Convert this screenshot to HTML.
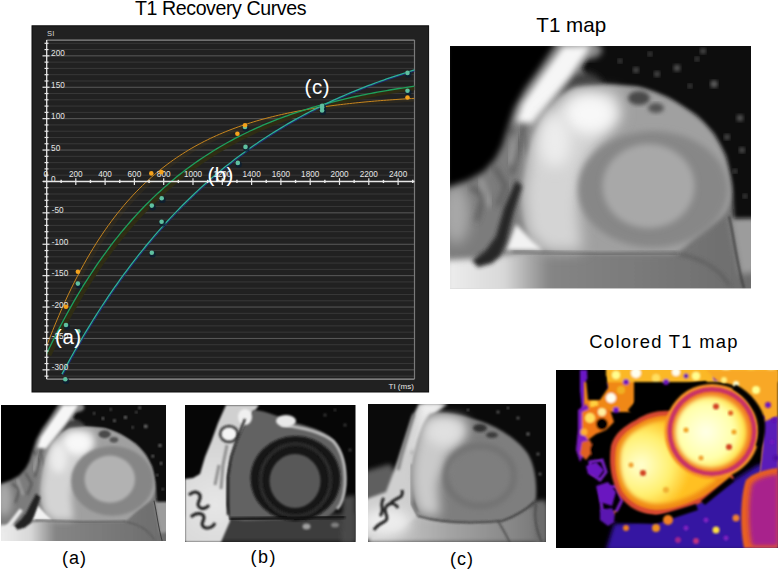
<!DOCTYPE html>
<html><head><meta charset="utf-8"><style>
html,body{margin:0;padding:0;background:#fff;}
body{width:778px;height:571px;position:relative;overflow:hidden;font-family:"Liberation Sans",sans-serif;}
.abs{position:absolute;}
.chart{position:absolute;left:30.5px;top:24.5px;}
.t{position:absolute;white-space:nowrap;color:#000;line-height:1;}
</style></head><body>
<div class="t" id="t1" style="left:135px;top:-0.8px;font-size:19.6px;letter-spacing:-0.42px;">T1 Recovery Curves</div>
<div class="t" id="t2" style="left:536.3px;top:15.2px;font-size:20.6px;letter-spacing:0px;">T1 map</div>
<div class="t" id="t3" style="left:589.3px;top:333px;font-size:18.4px;letter-spacing:1.29px;">Colored T1 map</div>
<div class="t" id="la" style="left:62px;top:548.5px;font-size:18px;letter-spacing:1px;">(a)</div>
<div class="t" id="lb" style="left:250.5px;top:547.5px;font-size:18px;letter-spacing:1.5px;">(b)</div>
<div class="t" id="lc" style="left:450px;top:549.5px;font-size:18px;letter-spacing:1px;">(c)</div>
<svg class="chart" width="399" height="369" viewBox="30.5 24.5 399 369">
<rect x="31.5" y="25.3" width="396.6" height="366.2" fill="#212121" stroke="#0c0c0c" stroke-width="1"/>
<line x1="46" x2="414" y1="375.63" y2="375.63" stroke="#383838" stroke-width="1"/>
<line x1="46" x2="414" y1="369.35" y2="369.35" stroke="#5a5a5a" stroke-width="1"/>
<line x1="46" x2="414" y1="363.07" y2="363.07" stroke="#383838" stroke-width="1"/>
<line x1="46" x2="414" y1="356.79" y2="356.79" stroke="#383838" stroke-width="1"/>
<line x1="46" x2="414" y1="350.51" y2="350.51" stroke="#383838" stroke-width="1"/>
<line x1="46" x2="414" y1="344.23" y2="344.23" stroke="#383838" stroke-width="1"/>
<line x1="46" x2="414" y1="337.95" y2="337.95" stroke="#5a5a5a" stroke-width="1"/>
<line x1="46" x2="414" y1="331.67" y2="331.67" stroke="#383838" stroke-width="1"/>
<line x1="46" x2="414" y1="325.39" y2="325.39" stroke="#383838" stroke-width="1"/>
<line x1="46" x2="414" y1="319.11" y2="319.11" stroke="#383838" stroke-width="1"/>
<line x1="46" x2="414" y1="312.83" y2="312.83" stroke="#383838" stroke-width="1"/>
<line x1="46" x2="414" y1="306.55" y2="306.55" stroke="#5a5a5a" stroke-width="1"/>
<line x1="46" x2="414" y1="300.27" y2="300.27" stroke="#383838" stroke-width="1"/>
<line x1="46" x2="414" y1="293.99" y2="293.99" stroke="#383838" stroke-width="1"/>
<line x1="46" x2="414" y1="287.71" y2="287.71" stroke="#383838" stroke-width="1"/>
<line x1="46" x2="414" y1="281.43" y2="281.43" stroke="#383838" stroke-width="1"/>
<line x1="46" x2="414" y1="275.15" y2="275.15" stroke="#5a5a5a" stroke-width="1"/>
<line x1="46" x2="414" y1="268.87" y2="268.87" stroke="#383838" stroke-width="1"/>
<line x1="46" x2="414" y1="262.59" y2="262.59" stroke="#383838" stroke-width="1"/>
<line x1="46" x2="414" y1="256.31" y2="256.31" stroke="#383838" stroke-width="1"/>
<line x1="46" x2="414" y1="250.03" y2="250.03" stroke="#383838" stroke-width="1"/>
<line x1="46" x2="414" y1="243.75" y2="243.75" stroke="#5a5a5a" stroke-width="1"/>
<line x1="46" x2="414" y1="237.47" y2="237.47" stroke="#383838" stroke-width="1"/>
<line x1="46" x2="414" y1="231.19" y2="231.19" stroke="#383838" stroke-width="1"/>
<line x1="46" x2="414" y1="224.91" y2="224.91" stroke="#383838" stroke-width="1"/>
<line x1="46" x2="414" y1="218.63" y2="218.63" stroke="#383838" stroke-width="1"/>
<line x1="46" x2="414" y1="212.35" y2="212.35" stroke="#5a5a5a" stroke-width="1"/>
<line x1="46" x2="414" y1="206.07" y2="206.07" stroke="#383838" stroke-width="1"/>
<line x1="46" x2="414" y1="199.79" y2="199.79" stroke="#383838" stroke-width="1"/>
<line x1="46" x2="414" y1="193.51" y2="193.51" stroke="#383838" stroke-width="1"/>
<line x1="46" x2="414" y1="187.23" y2="187.23" stroke="#383838" stroke-width="1"/>
<line x1="46" x2="414" y1="180.95" y2="180.95" stroke="#5a5a5a" stroke-width="1"/>
<line x1="46" x2="414" y1="174.67" y2="174.67" stroke="#383838" stroke-width="1"/>
<line x1="46" x2="414" y1="168.39" y2="168.39" stroke="#383838" stroke-width="1"/>
<line x1="46" x2="414" y1="162.11" y2="162.11" stroke="#383838" stroke-width="1"/>
<line x1="46" x2="414" y1="155.83" y2="155.83" stroke="#383838" stroke-width="1"/>
<line x1="46" x2="414" y1="149.55" y2="149.55" stroke="#5a5a5a" stroke-width="1"/>
<line x1="46" x2="414" y1="143.27" y2="143.27" stroke="#383838" stroke-width="1"/>
<line x1="46" x2="414" y1="136.99" y2="136.99" stroke="#383838" stroke-width="1"/>
<line x1="46" x2="414" y1="130.71" y2="130.71" stroke="#383838" stroke-width="1"/>
<line x1="46" x2="414" y1="124.43" y2="124.43" stroke="#383838" stroke-width="1"/>
<line x1="46" x2="414" y1="118.15" y2="118.15" stroke="#5a5a5a" stroke-width="1"/>
<line x1="46" x2="414" y1="111.87" y2="111.87" stroke="#383838" stroke-width="1"/>
<line x1="46" x2="414" y1="105.59" y2="105.59" stroke="#383838" stroke-width="1"/>
<line x1="46" x2="414" y1="99.31" y2="99.31" stroke="#383838" stroke-width="1"/>
<line x1="46" x2="414" y1="93.03" y2="93.03" stroke="#383838" stroke-width="1"/>
<line x1="46" x2="414" y1="86.75" y2="86.75" stroke="#5a5a5a" stroke-width="1"/>
<line x1="46" x2="414" y1="80.47" y2="80.47" stroke="#383838" stroke-width="1"/>
<line x1="46" x2="414" y1="74.19" y2="74.19" stroke="#383838" stroke-width="1"/>
<line x1="46" x2="414" y1="67.91" y2="67.91" stroke="#383838" stroke-width="1"/>
<line x1="46" x2="414" y1="61.63" y2="61.63" stroke="#383838" stroke-width="1"/>
<line x1="46" x2="414" y1="55.35" y2="55.35" stroke="#5a5a5a" stroke-width="1"/>
<line x1="46" x2="414" y1="49.07" y2="49.07" stroke="#383838" stroke-width="1"/>
<line x1="46" x2="414" y1="42.79" y2="42.79" stroke="#383838" stroke-width="1"/>
<line x1="46" x2="414" y1="39.6" y2="39.6" stroke="#8a8a8a" stroke-width="1.2"/>
<line x1="414" x2="414" y1="39.6" y2="378.6" stroke="#7a7a7a" stroke-width="1.2"/>
<line x1="46" x2="414" y1="378.6" y2="378.6" stroke="#9a9a9a" stroke-width="1.4"/>
<g clip-path="url(#plotclip)">
<defs><clipPath id="plotclip"><rect x="46" y="39.6" width="368" height="339.0"/></clipPath></defs>
<path d="M46.00,345.93 L49.09,337.83 L52.18,330.00 L55.28,322.41 L58.37,315.07 L61.46,307.96 L64.55,301.08 L67.65,294.42 L70.74,287.97 L73.83,281.73 L76.92,275.68 L80.02,269.83 L83.11,264.17 L86.20,258.69 L89.29,253.38 L92.39,248.24 L95.48,243.27 L98.57,238.45 L101.66,233.79 L104.76,229.28 L107.85,224.91 L110.94,220.68 L114.03,216.59 L117.13,212.63 L120.22,208.79 L123.31,205.08 L126.40,201.48 L129.50,198.00 L132.59,194.63 L135.68,191.37 L138.77,188.22 L141.87,185.16 L144.96,182.20 L148.05,179.34 L151.14,176.56 L154.24,173.88 L157.33,171.28 L160.42,168.77 L163.51,166.33 L166.61,163.97 L169.70,161.69 L172.79,159.48 L175.88,157.34 L178.97,155.27 L182.07,153.27 L185.16,151.33 L188.25,149.45 L191.34,147.63 L194.44,145.87 L197.53,144.17 L200.62,142.52 L203.71,140.92 L206.81,139.38 L209.90,137.88 L212.99,136.43 L216.08,135.03 L219.18,133.67 L222.27,132.36 L225.36,131.09 L228.45,129.85 L231.55,128.66 L234.64,127.51 L237.73,126.39 L240.82,125.31 L243.92,124.26 L247.01,123.25 L250.10,122.27 L253.19,121.32 L256.29,120.40 L259.38,119.51 L262.47,118.65 L265.56,117.81 L268.66,117.01 L271.75,116.22 L274.84,115.47 L277.93,114.73 L281.03,114.02 L284.12,113.34 L287.21,112.67 L290.30,112.03 L293.39,111.41 L296.49,110.80 L299.58,110.22 L302.67,109.66 L305.76,109.11 L308.86,108.58 L311.95,108.07 L315.04,107.57 L318.13,107.09 L321.23,106.63 L324.32,106.17 L327.41,105.74 L330.50,105.32 L333.60,104.91 L336.69,104.51 L339.78,104.13 L342.87,103.76 L345.97,103.40 L349.06,103.05 L352.15,102.72 L355.24,102.39 L358.34,102.08 L361.43,101.77 L364.52,101.48 L367.61,101.19 L370.71,100.92 L373.80,100.65 L376.89,100.39 L379.98,100.14 L383.08,99.89 L386.17,99.66 L389.26,99.43 L392.35,99.21 L395.45,99.00 L398.54,98.79 L401.63,98.59 L404.72,98.40 L407.82,98.21 L410.91,98.03 L414.00,97.85" fill="none" stroke="rgba(75,60,25,0.25)" stroke-width="4" transform="translate(2.4,1.2)"/>
<path d="M46.00,353.44 L49.09,346.97 L52.18,340.64 L55.28,334.45 L58.37,328.41 L61.46,322.50 L64.55,316.73 L67.65,311.08 L70.74,305.56 L73.83,300.17 L76.92,294.90 L80.02,289.75 L83.11,284.71 L86.20,279.79 L89.29,274.98 L92.39,270.28 L95.48,265.68 L98.57,261.19 L101.66,256.80 L104.76,252.51 L107.85,248.32 L110.94,244.22 L114.03,240.21 L117.13,236.29 L120.22,232.46 L123.31,228.72 L126.40,225.07 L129.50,221.49 L132.59,218.00 L135.68,214.58 L138.77,211.24 L141.87,207.98 L144.96,204.79 L148.05,201.68 L151.14,198.63 L154.24,195.65 L157.33,192.74 L160.42,189.90 L163.51,187.12 L166.61,184.40 L169.70,181.74 L172.79,179.15 L175.88,176.61 L178.97,174.13 L182.07,171.71 L185.16,169.34 L188.25,167.02 L191.34,164.76 L194.44,162.55 L197.53,160.38 L200.62,158.27 L203.71,156.20 L206.81,154.18 L209.90,152.21 L212.99,150.28 L216.08,148.40 L219.18,146.55 L222.27,144.75 L225.36,142.99 L228.45,141.27 L231.55,139.59 L234.64,137.94 L237.73,136.34 L240.82,134.77 L243.92,133.23 L247.01,131.73 L250.10,130.26 L253.19,128.83 L256.29,127.43 L259.38,126.06 L262.47,124.72 L265.56,123.41 L268.66,122.14 L271.75,120.89 L274.84,119.66 L277.93,118.47 L281.03,117.30 L284.12,116.16 L287.21,115.05 L290.30,113.96 L293.39,112.89 L296.49,111.85 L299.58,110.83 L302.67,109.84 L305.76,108.87 L308.86,107.92 L311.95,106.99 L315.04,106.08 L318.13,105.19 L321.23,104.33 L324.32,103.48 L327.41,102.65 L330.50,101.84 L333.60,101.05 L336.69,100.28 L339.78,99.52 L342.87,98.78 L345.97,98.06 L349.06,97.35 L352.15,96.66 L355.24,95.99 L358.34,95.33 L361.43,94.68 L364.52,94.05 L367.61,93.44 L370.71,92.84 L373.80,92.25 L376.89,91.67 L379.98,91.11 L383.08,90.56 L386.17,90.03 L389.26,89.50 L392.35,88.99 L395.45,88.49 L398.54,88.00 L401.63,87.52 L404.72,87.05 L407.82,86.59 L410.91,86.15 L414.00,85.71" fill="none" stroke="rgba(48,46,18,0.9)" stroke-width="4.5" transform="translate(2.6,1.4)"/>
<path d="M61.46,373.62 L64.55,367.84 L67.65,362.15 L70.74,356.55 L73.83,351.04 L76.92,345.62 L80.02,340.28 L83.11,335.03 L86.20,329.87 L89.29,324.79 L92.39,319.78 L95.48,314.86 L98.57,310.02 L101.66,305.25 L104.76,300.56 L107.85,295.95 L110.94,291.41 L114.03,286.94 L117.13,282.54 L120.22,278.22 L123.31,273.96 L126.40,269.77 L129.50,265.65 L132.59,261.59 L135.68,257.60 L138.77,253.67 L141.87,249.80 L144.96,246.00 L148.05,242.26 L151.14,238.57 L154.24,234.95 L157.33,231.38 L160.42,227.87 L163.51,224.42 L166.61,221.02 L169.70,217.68 L172.79,214.39 L175.88,211.15 L178.97,207.97 L182.07,204.83 L185.16,201.75 L188.25,198.71 L191.34,195.72 L194.44,192.78 L197.53,189.89 L200.62,187.04 L203.71,184.24 L206.81,181.49 L209.90,178.78 L212.99,176.11 L216.08,173.48 L219.18,170.90 L222.27,168.35 L225.36,165.85 L228.45,163.39 L231.55,160.97 L234.64,158.58 L237.73,156.24 L240.82,153.93 L243.92,151.66 L247.01,149.42 L250.10,147.22 L253.19,145.06 L256.29,142.93 L259.38,140.83 L262.47,138.77 L265.56,136.74 L268.66,134.74 L271.75,132.78 L274.84,130.84 L277.93,128.94 L281.03,127.07 L284.12,125.23 L287.21,123.41 L290.30,121.63 L293.39,119.87 L296.49,118.15 L299.58,116.45 L302.67,114.77 L305.76,113.13 L308.86,111.51 L311.95,109.91 L315.04,108.35 L318.13,106.80 L321.23,105.28 L324.32,103.79 L327.41,102.32 L330.50,100.87 L333.60,99.45 L336.69,98.05 L339.78,96.67 L342.87,95.31 L345.97,93.98 L349.06,92.66 L352.15,91.37 L355.24,90.10 L358.34,88.85 L361.43,87.61 L364.52,86.40 L367.61,85.21 L370.71,84.04 L373.80,82.88 L376.89,81.74 L379.98,80.63 L383.08,79.53 L386.17,78.44 L389.26,77.38 L392.35,76.33 L395.45,75.30 L398.54,74.28 L401.63,73.28 L404.72,72.30 L407.82,71.33 L410.91,70.38 L414.00,69.44" fill="none" stroke="#1c2a80" stroke-width="1.0" transform="translate(0.9,0.9)"/>
<path d="M46.00,345.93 L49.09,337.83 L52.18,330.00 L55.28,322.41 L58.37,315.07 L61.46,307.96 L64.55,301.08 L67.65,294.42 L70.74,287.97 L73.83,281.73 L76.92,275.68 L80.02,269.83 L83.11,264.17 L86.20,258.69 L89.29,253.38 L92.39,248.24 L95.48,243.27 L98.57,238.45 L101.66,233.79 L104.76,229.28 L107.85,224.91 L110.94,220.68 L114.03,216.59 L117.13,212.63 L120.22,208.79 L123.31,205.08 L126.40,201.48 L129.50,198.00 L132.59,194.63 L135.68,191.37 L138.77,188.22 L141.87,185.16 L144.96,182.20 L148.05,179.34 L151.14,176.56 L154.24,173.88 L157.33,171.28 L160.42,168.77 L163.51,166.33 L166.61,163.97 L169.70,161.69 L172.79,159.48 L175.88,157.34 L178.97,155.27 L182.07,153.27 L185.16,151.33 L188.25,149.45 L191.34,147.63 L194.44,145.87 L197.53,144.17 L200.62,142.52 L203.71,140.92 L206.81,139.38 L209.90,137.88 L212.99,136.43 L216.08,135.03 L219.18,133.67 L222.27,132.36 L225.36,131.09 L228.45,129.85 L231.55,128.66 L234.64,127.51 L237.73,126.39 L240.82,125.31 L243.92,124.26 L247.01,123.25 L250.10,122.27 L253.19,121.32 L256.29,120.40 L259.38,119.51 L262.47,118.65 L265.56,117.81 L268.66,117.01 L271.75,116.22 L274.84,115.47 L277.93,114.73 L281.03,114.02 L284.12,113.34 L287.21,112.67 L290.30,112.03 L293.39,111.41 L296.49,110.80 L299.58,110.22 L302.67,109.66 L305.76,109.11 L308.86,108.58 L311.95,108.07 L315.04,107.57 L318.13,107.09 L321.23,106.63 L324.32,106.17 L327.41,105.74 L330.50,105.32 L333.60,104.91 L336.69,104.51 L339.78,104.13 L342.87,103.76 L345.97,103.40 L349.06,103.05 L352.15,102.72 L355.24,102.39 L358.34,102.08 L361.43,101.77 L364.52,101.48 L367.61,101.19 L370.71,100.92 L373.80,100.65 L376.89,100.39 L379.98,100.14 L383.08,99.89 L386.17,99.66 L389.26,99.43 L392.35,99.21 L395.45,99.00 L398.54,98.79 L401.63,98.59 L404.72,98.40 L407.82,98.21 L410.91,98.03 L414.00,97.85" fill="none" stroke="#c8861e" stroke-width="1.0"/>
<path d="M46.00,353.44 L49.09,346.97 L52.18,340.64 L55.28,334.45 L58.37,328.41 L61.46,322.50 L64.55,316.73 L67.65,311.08 L70.74,305.56 L73.83,300.17 L76.92,294.90 L80.02,289.75 L83.11,284.71 L86.20,279.79 L89.29,274.98 L92.39,270.28 L95.48,265.68 L98.57,261.19 L101.66,256.80 L104.76,252.51 L107.85,248.32 L110.94,244.22 L114.03,240.21 L117.13,236.29 L120.22,232.46 L123.31,228.72 L126.40,225.07 L129.50,221.49 L132.59,218.00 L135.68,214.58 L138.77,211.24 L141.87,207.98 L144.96,204.79 L148.05,201.68 L151.14,198.63 L154.24,195.65 L157.33,192.74 L160.42,189.90 L163.51,187.12 L166.61,184.40 L169.70,181.74 L172.79,179.15 L175.88,176.61 L178.97,174.13 L182.07,171.71 L185.16,169.34 L188.25,167.02 L191.34,164.76 L194.44,162.55 L197.53,160.38 L200.62,158.27 L203.71,156.20 L206.81,154.18 L209.90,152.21 L212.99,150.28 L216.08,148.40 L219.18,146.55 L222.27,144.75 L225.36,142.99 L228.45,141.27 L231.55,139.59 L234.64,137.94 L237.73,136.34 L240.82,134.77 L243.92,133.23 L247.01,131.73 L250.10,130.26 L253.19,128.83 L256.29,127.43 L259.38,126.06 L262.47,124.72 L265.56,123.41 L268.66,122.14 L271.75,120.89 L274.84,119.66 L277.93,118.47 L281.03,117.30 L284.12,116.16 L287.21,115.05 L290.30,113.96 L293.39,112.89 L296.49,111.85 L299.58,110.83 L302.67,109.84 L305.76,108.87 L308.86,107.92 L311.95,106.99 L315.04,106.08 L318.13,105.19 L321.23,104.33 L324.32,103.48 L327.41,102.65 L330.50,101.84 L333.60,101.05 L336.69,100.28 L339.78,99.52 L342.87,98.78 L345.97,98.06 L349.06,97.35 L352.15,96.66 L355.24,95.99 L358.34,95.33 L361.43,94.68 L364.52,94.05 L367.61,93.44 L370.71,92.84 L373.80,92.25 L376.89,91.67 L379.98,91.11 L383.08,90.56 L386.17,90.03 L389.26,89.50 L392.35,88.99 L395.45,88.49 L398.54,88.00 L401.63,87.52 L404.72,87.05 L407.82,86.59 L410.91,86.15 L414.00,85.71" fill="none" stroke="#1ea05c" stroke-width="1.3"/>
<path d="M61.46,373.62 L64.55,367.84 L67.65,362.15 L70.74,356.55 L73.83,351.04 L76.92,345.62 L80.02,340.28 L83.11,335.03 L86.20,329.87 L89.29,324.79 L92.39,319.78 L95.48,314.86 L98.57,310.02 L101.66,305.25 L104.76,300.56 L107.85,295.95 L110.94,291.41 L114.03,286.94 L117.13,282.54 L120.22,278.22 L123.31,273.96 L126.40,269.77 L129.50,265.65 L132.59,261.59 L135.68,257.60 L138.77,253.67 L141.87,249.80 L144.96,246.00 L148.05,242.26 L151.14,238.57 L154.24,234.95 L157.33,231.38 L160.42,227.87 L163.51,224.42 L166.61,221.02 L169.70,217.68 L172.79,214.39 L175.88,211.15 L178.97,207.97 L182.07,204.83 L185.16,201.75 L188.25,198.71 L191.34,195.72 L194.44,192.78 L197.53,189.89 L200.62,187.04 L203.71,184.24 L206.81,181.49 L209.90,178.78 L212.99,176.11 L216.08,173.48 L219.18,170.90 L222.27,168.35 L225.36,165.85 L228.45,163.39 L231.55,160.97 L234.64,158.58 L237.73,156.24 L240.82,153.93 L243.92,151.66 L247.01,149.42 L250.10,147.22 L253.19,145.06 L256.29,142.93 L259.38,140.83 L262.47,138.77 L265.56,136.74 L268.66,134.74 L271.75,132.78 L274.84,130.84 L277.93,128.94 L281.03,127.07 L284.12,125.23 L287.21,123.41 L290.30,121.63 L293.39,119.87 L296.49,118.15 L299.58,116.45 L302.67,114.77 L305.76,113.13 L308.86,111.51 L311.95,109.91 L315.04,108.35 L318.13,106.80 L321.23,105.28 L324.32,103.79 L327.41,102.32 L330.50,100.87 L333.60,99.45 L336.69,98.05 L339.78,96.67 L342.87,95.31 L345.97,93.98 L349.06,92.66 L352.15,91.37 L355.24,90.10 L358.34,88.85 L361.43,87.61 L364.52,86.40 L367.61,85.21 L370.71,84.04 L373.80,82.88 L376.89,81.74 L379.98,80.63 L383.08,79.53 L386.17,78.44 L389.26,77.38 L392.35,76.33 L395.45,75.30 L398.54,74.28 L401.63,73.28 L404.72,72.30 L407.82,71.33 L410.91,70.38 L414.00,69.44" fill="none" stroke="#2cb09a" stroke-width="1.3"/>
</g>
<line x1="46.2" x2="46.2" y1="39.6" y2="378.6" stroke="#e8e8e8" stroke-width="1.3"/>
<line x1="44" x2="48" y1="375.63" y2="375.63" stroke="#e8e8e8" stroke-width="1.2"/>
<line x1="42" x2="49" y1="369.35" y2="369.35" stroke="#e8e8e8" stroke-width="1.2"/>
<line x1="44" x2="48" y1="363.07" y2="363.07" stroke="#e8e8e8" stroke-width="1.2"/>
<line x1="44" x2="48" y1="356.79" y2="356.79" stroke="#e8e8e8" stroke-width="1.2"/>
<line x1="44" x2="48" y1="350.51" y2="350.51" stroke="#e8e8e8" stroke-width="1.2"/>
<line x1="44" x2="48" y1="344.23" y2="344.23" stroke="#e8e8e8" stroke-width="1.2"/>
<line x1="42" x2="49" y1="337.95" y2="337.95" stroke="#e8e8e8" stroke-width="1.2"/>
<line x1="44" x2="48" y1="331.67" y2="331.67" stroke="#e8e8e8" stroke-width="1.2"/>
<line x1="44" x2="48" y1="325.39" y2="325.39" stroke="#e8e8e8" stroke-width="1.2"/>
<line x1="44" x2="48" y1="319.11" y2="319.11" stroke="#e8e8e8" stroke-width="1.2"/>
<line x1="44" x2="48" y1="312.83" y2="312.83" stroke="#e8e8e8" stroke-width="1.2"/>
<line x1="42" x2="49" y1="306.55" y2="306.55" stroke="#e8e8e8" stroke-width="1.2"/>
<line x1="44" x2="48" y1="300.27" y2="300.27" stroke="#e8e8e8" stroke-width="1.2"/>
<line x1="44" x2="48" y1="293.99" y2="293.99" stroke="#e8e8e8" stroke-width="1.2"/>
<line x1="44" x2="48" y1="287.71" y2="287.71" stroke="#e8e8e8" stroke-width="1.2"/>
<line x1="44" x2="48" y1="281.43" y2="281.43" stroke="#e8e8e8" stroke-width="1.2"/>
<line x1="42" x2="49" y1="275.15" y2="275.15" stroke="#e8e8e8" stroke-width="1.2"/>
<line x1="44" x2="48" y1="268.87" y2="268.87" stroke="#e8e8e8" stroke-width="1.2"/>
<line x1="44" x2="48" y1="262.59" y2="262.59" stroke="#e8e8e8" stroke-width="1.2"/>
<line x1="44" x2="48" y1="256.31" y2="256.31" stroke="#e8e8e8" stroke-width="1.2"/>
<line x1="44" x2="48" y1="250.03" y2="250.03" stroke="#e8e8e8" stroke-width="1.2"/>
<line x1="42" x2="49" y1="243.75" y2="243.75" stroke="#e8e8e8" stroke-width="1.2"/>
<line x1="44" x2="48" y1="237.47" y2="237.47" stroke="#e8e8e8" stroke-width="1.2"/>
<line x1="44" x2="48" y1="231.19" y2="231.19" stroke="#e8e8e8" stroke-width="1.2"/>
<line x1="44" x2="48" y1="224.91" y2="224.91" stroke="#e8e8e8" stroke-width="1.2"/>
<line x1="44" x2="48" y1="218.63" y2="218.63" stroke="#e8e8e8" stroke-width="1.2"/>
<line x1="42" x2="49" y1="212.35" y2="212.35" stroke="#e8e8e8" stroke-width="1.2"/>
<line x1="44" x2="48" y1="206.07" y2="206.07" stroke="#e8e8e8" stroke-width="1.2"/>
<line x1="44" x2="48" y1="199.79" y2="199.79" stroke="#e8e8e8" stroke-width="1.2"/>
<line x1="44" x2="48" y1="193.51" y2="193.51" stroke="#e8e8e8" stroke-width="1.2"/>
<line x1="44" x2="48" y1="187.23" y2="187.23" stroke="#e8e8e8" stroke-width="1.2"/>
<line x1="42" x2="49" y1="180.95" y2="180.95" stroke="#e8e8e8" stroke-width="1.2"/>
<line x1="44" x2="48" y1="174.67" y2="174.67" stroke="#e8e8e8" stroke-width="1.2"/>
<line x1="44" x2="48" y1="168.39" y2="168.39" stroke="#e8e8e8" stroke-width="1.2"/>
<line x1="44" x2="48" y1="162.11" y2="162.11" stroke="#e8e8e8" stroke-width="1.2"/>
<line x1="44" x2="48" y1="155.83" y2="155.83" stroke="#e8e8e8" stroke-width="1.2"/>
<line x1="42" x2="49" y1="149.55" y2="149.55" stroke="#e8e8e8" stroke-width="1.2"/>
<line x1="44" x2="48" y1="143.27" y2="143.27" stroke="#e8e8e8" stroke-width="1.2"/>
<line x1="44" x2="48" y1="136.99" y2="136.99" stroke="#e8e8e8" stroke-width="1.2"/>
<line x1="44" x2="48" y1="130.71" y2="130.71" stroke="#e8e8e8" stroke-width="1.2"/>
<line x1="44" x2="48" y1="124.43" y2="124.43" stroke="#e8e8e8" stroke-width="1.2"/>
<line x1="42" x2="49" y1="118.15" y2="118.15" stroke="#e8e8e8" stroke-width="1.2"/>
<line x1="44" x2="48" y1="111.87" y2="111.87" stroke="#e8e8e8" stroke-width="1.2"/>
<line x1="44" x2="48" y1="105.59" y2="105.59" stroke="#e8e8e8" stroke-width="1.2"/>
<line x1="44" x2="48" y1="99.31" y2="99.31" stroke="#e8e8e8" stroke-width="1.2"/>
<line x1="44" x2="48" y1="93.03" y2="93.03" stroke="#e8e8e8" stroke-width="1.2"/>
<line x1="42" x2="49" y1="86.75" y2="86.75" stroke="#e8e8e8" stroke-width="1.2"/>
<line x1="44" x2="48" y1="80.47" y2="80.47" stroke="#e8e8e8" stroke-width="1.2"/>
<line x1="44" x2="48" y1="74.19" y2="74.19" stroke="#e8e8e8" stroke-width="1.2"/>
<line x1="44" x2="48" y1="67.91" y2="67.91" stroke="#e8e8e8" stroke-width="1.2"/>
<line x1="44" x2="48" y1="61.63" y2="61.63" stroke="#e8e8e8" stroke-width="1.2"/>
<line x1="42" x2="49" y1="55.35" y2="55.35" stroke="#e8e8e8" stroke-width="1.2"/>
<line x1="44" x2="48" y1="49.07" y2="49.07" stroke="#e8e8e8" stroke-width="1.2"/>
<line x1="44" x2="48" y1="42.79" y2="42.79" stroke="#e8e8e8" stroke-width="1.2"/>
<line x1="42.5" x2="414" y1="180.95" y2="180.95" stroke="#e8e8e8" stroke-width="1.4"/>
<line x1="60.65" x2="60.65" y1="179.35" y2="182.55" stroke="#e8e8e8" stroke-width="1.4"/>
<line x1="75.30" x2="75.30" y1="177.65" y2="184.45" stroke="#e8e8e8" stroke-width="1.2"/>
<line x1="89.95" x2="89.95" y1="179.35" y2="182.55" stroke="#e8e8e8" stroke-width="1.4"/>
<line x1="104.60" x2="104.60" y1="177.65" y2="184.45" stroke="#e8e8e8" stroke-width="1.2"/>
<line x1="119.25" x2="119.25" y1="179.35" y2="182.55" stroke="#e8e8e8" stroke-width="1.4"/>
<line x1="133.90" x2="133.90" y1="177.65" y2="184.45" stroke="#e8e8e8" stroke-width="1.2"/>
<line x1="148.55" x2="148.55" y1="179.35" y2="182.55" stroke="#e8e8e8" stroke-width="1.4"/>
<line x1="163.20" x2="163.20" y1="177.65" y2="184.45" stroke="#e8e8e8" stroke-width="1.2"/>
<line x1="177.85" x2="177.85" y1="179.35" y2="182.55" stroke="#e8e8e8" stroke-width="1.4"/>
<line x1="192.50" x2="192.50" y1="177.65" y2="184.45" stroke="#e8e8e8" stroke-width="1.2"/>
<line x1="207.15" x2="207.15" y1="179.35" y2="182.55" stroke="#e8e8e8" stroke-width="1.4"/>
<line x1="221.80" x2="221.80" y1="177.65" y2="184.45" stroke="#e8e8e8" stroke-width="1.2"/>
<line x1="236.45" x2="236.45" y1="179.35" y2="182.55" stroke="#e8e8e8" stroke-width="1.4"/>
<line x1="251.10" x2="251.10" y1="177.65" y2="184.45" stroke="#e8e8e8" stroke-width="1.2"/>
<line x1="265.75" x2="265.75" y1="179.35" y2="182.55" stroke="#e8e8e8" stroke-width="1.4"/>
<line x1="280.40" x2="280.40" y1="177.65" y2="184.45" stroke="#e8e8e8" stroke-width="1.2"/>
<line x1="295.05" x2="295.05" y1="179.35" y2="182.55" stroke="#e8e8e8" stroke-width="1.4"/>
<line x1="309.70" x2="309.70" y1="177.65" y2="184.45" stroke="#e8e8e8" stroke-width="1.2"/>
<line x1="324.35" x2="324.35" y1="179.35" y2="182.55" stroke="#e8e8e8" stroke-width="1.4"/>
<line x1="339.00" x2="339.00" y1="177.65" y2="184.45" stroke="#e8e8e8" stroke-width="1.2"/>
<line x1="353.65" x2="353.65" y1="179.35" y2="182.55" stroke="#e8e8e8" stroke-width="1.4"/>
<line x1="368.30" x2="368.30" y1="177.65" y2="184.45" stroke="#e8e8e8" stroke-width="1.2"/>
<line x1="382.95" x2="382.95" y1="179.35" y2="182.55" stroke="#e8e8e8" stroke-width="1.4"/>
<line x1="397.60" x2="397.60" y1="177.65" y2="184.45" stroke="#e8e8e8" stroke-width="1.2"/>
<line x1="412.25" x2="412.25" y1="179.35" y2="182.55" stroke="#e8e8e8" stroke-width="1.4"/>
<text x="51.3" y="369.95" font-family="Liberation Sans, sans-serif" font-size="8.2" fill="#e6e6e6">-300</text>
<text x="51.3" y="338.55" font-family="Liberation Sans, sans-serif" font-size="8.2" fill="#e6e6e6">-250</text>
<text x="51.3" y="307.15" font-family="Liberation Sans, sans-serif" font-size="8.2" fill="#e6e6e6">-200</text>
<text x="51.3" y="275.75" font-family="Liberation Sans, sans-serif" font-size="8.2" fill="#e6e6e6">-150</text>
<text x="51.3" y="244.35" font-family="Liberation Sans, sans-serif" font-size="8.2" fill="#e6e6e6">-100</text>
<text x="51.3" y="212.95" font-family="Liberation Sans, sans-serif" font-size="8.2" fill="#e6e6e6">-50</text>
<text x="50.6" y="181.55" font-family="Liberation Sans, sans-serif" font-size="8.2" fill="#e6e6e6">0</text>
<text x="50.6" y="150.15" font-family="Liberation Sans, sans-serif" font-size="8.2" fill="#e6e6e6">50</text>
<text x="50.6" y="118.75" font-family="Liberation Sans, sans-serif" font-size="8.2" fill="#e6e6e6">100</text>
<text x="50.6" y="87.35" font-family="Liberation Sans, sans-serif" font-size="8.2" fill="#e6e6e6">150</text>
<text x="50.6" y="55.95" font-family="Liberation Sans, sans-serif" font-size="8.2" fill="#e6e6e6">200</text>
<text x="45.40" y="176.2" text-anchor="middle" font-family="Liberation Sans, sans-serif" font-size="8.2" fill="#e6e6e6">0</text>
<text x="75.30" y="176.2" text-anchor="middle" font-family="Liberation Sans, sans-serif" font-size="8.2" fill="#e6e6e6">200</text>
<text x="104.60" y="176.2" text-anchor="middle" font-family="Liberation Sans, sans-serif" font-size="8.2" fill="#e6e6e6">400</text>
<text x="133.90" y="176.2" text-anchor="middle" font-family="Liberation Sans, sans-serif" font-size="8.2" fill="#e6e6e6">600</text>
<text x="163.20" y="176.2" text-anchor="middle" font-family="Liberation Sans, sans-serif" font-size="8.2" fill="#e6e6e6">800</text>
<text x="192.50" y="176.2" text-anchor="middle" font-family="Liberation Sans, sans-serif" font-size="8.2" fill="#e6e6e6">1000</text>
<text x="221.80" y="176.2" text-anchor="middle" font-family="Liberation Sans, sans-serif" font-size="8.2" fill="#e6e6e6">1200</text>
<text x="251.10" y="176.2" text-anchor="middle" font-family="Liberation Sans, sans-serif" font-size="8.2" fill="#e6e6e6">1400</text>
<text x="280.40" y="176.2" text-anchor="middle" font-family="Liberation Sans, sans-serif" font-size="8.2" fill="#e6e6e6">1600</text>
<text x="309.70" y="176.2" text-anchor="middle" font-family="Liberation Sans, sans-serif" font-size="8.2" fill="#e6e6e6">1800</text>
<text x="339.00" y="176.2" text-anchor="middle" font-family="Liberation Sans, sans-serif" font-size="8.2" fill="#e6e6e6">2000</text>
<text x="368.30" y="176.2" text-anchor="middle" font-family="Liberation Sans, sans-serif" font-size="8.2" fill="#e6e6e6">2200</text>
<text x="397.60" y="176.2" text-anchor="middle" font-family="Liberation Sans, sans-serif" font-size="8.2" fill="#e6e6e6">2400</text>
<text x="46.6" y="35.8" font-family="Liberation Sans, sans-serif" font-size="7.6" fill="#d8d8d8">SI</text>
<text x="388" y="388.2" font-family="Liberation Sans, sans-serif" font-size="8" fill="#e6e6e6">TI (ms)</text>
<circle cx="78.2" cy="284.7" r="3.2" fill="rgba(10,30,50,0.8)"/>
<circle cx="66.3" cy="326.1" r="3.2" fill="rgba(10,30,50,0.8)"/>
<circle cx="78.6" cy="332.5" r="3.2" fill="rgba(10,30,50,0.8)"/>
<circle cx="65.6" cy="380.4" r="3.2" fill="rgba(10,30,50,0.8)"/>
<circle cx="162.0" cy="199.4" r="3.2" fill="rgba(10,30,50,0.8)"/>
<circle cx="152.1" cy="206.7" r="3.2" fill="rgba(10,30,50,0.8)"/>
<circle cx="161.9" cy="222.8" r="3.2" fill="rgba(10,30,50,0.8)"/>
<circle cx="152.1" cy="253.9" r="3.2" fill="rgba(10,30,50,0.8)"/>
<circle cx="245.3" cy="128.1" r="3.2" fill="rgba(10,30,50,0.8)"/>
<circle cx="245.8" cy="148.0" r="3.2" fill="rgba(10,30,50,0.8)"/>
<circle cx="238.1" cy="164.0" r="3.2" fill="rgba(10,30,50,0.8)"/>
<circle cx="322.4" cy="111.6" r="3.2" fill="rgba(10,30,50,0.8)"/>
<circle cx="322.4" cy="108.6" r="3.2" fill="rgba(10,30,50,0.8)"/>
<circle cx="322.4" cy="106.8" r="3.2" fill="rgba(10,30,50,0.8)"/>
<circle cx="407.8" cy="74.0" r="3.2" fill="rgba(10,30,50,0.8)"/>
<circle cx="407.8" cy="91.9" r="3.2" fill="rgba(10,30,50,0.8)"/>
<circle cx="77.4" cy="271.3" r="2.3" fill="#f4a21c"/>
<circle cx="77.4" cy="283.1" r="2.3" fill="#5fc0a0"/>
<circle cx="65.5" cy="306.3" r="2.3" fill="#f4a21c"/>
<circle cx="65.5" cy="324.5" r="2.3" fill="#5fc0a0"/>
<circle cx="77.8" cy="330.9" r="2.3" fill="#5fc0a0"/>
<circle cx="64.8" cy="378.8" r="2.3" fill="#5fc0a0"/>
<circle cx="150.8" cy="172.9" r="2.3" fill="#f4a21c"/>
<circle cx="160.9" cy="171.6" r="2.3" fill="#f4a21c"/>
<circle cx="161.2" cy="197.8" r="2.3" fill="#5fc0a0"/>
<circle cx="151.3" cy="205.1" r="2.3" fill="#5fc0a0"/>
<circle cx="161.1" cy="221.2" r="2.3" fill="#5fc0a0"/>
<circle cx="151.3" cy="252.3" r="2.3" fill="#5fc0a0"/>
<circle cx="236.9" cy="133.3" r="2.3" fill="#f4a21c"/>
<circle cx="244.5" cy="126.5" r="2.3" fill="#5fc0a0"/>
<circle cx="244.5" cy="124.8" r="2.3" fill="#f4a21c"/>
<circle cx="245.0" cy="146.4" r="2.3" fill="#5fc0a0"/>
<circle cx="237.3" cy="162.4" r="2.3" fill="#5fc0a0"/>
<circle cx="321.6" cy="110.0" r="2.3" fill="#5fc0a0"/>
<circle cx="321.6" cy="107.0" r="2.3" fill="#5fc0a0"/>
<circle cx="321.6" cy="105.2" r="2.3" fill="#5fc0a0"/>
<circle cx="407.0" cy="72.4" r="2.3" fill="#5fc0a0"/>
<circle cx="407.0" cy="90.3" r="2.3" fill="#5fc0a0"/>
<circle cx="407.0" cy="97.0" r="2.3" fill="#f4a21c"/>
<text x="54.6" y="343" font-family="Liberation Sans, sans-serif" font-size="20.5" letter-spacing="0.5" fill="#ffffff">(a)</text>
<text x="206.9" y="181.2" font-family="Liberation Sans, sans-serif" font-size="20.5" letter-spacing="0.5" fill="#ffffff">(b)</text>
<text x="304.1" y="93.6" font-family="Liberation Sans, sans-serif" font-size="20.5" letter-spacing="0.5" fill="#ffffff">(c)</text>
</svg>

<div class="abs" style="left:449.5px;top:46.3px;width:301px;height:242.3px;overflow:hidden"><svg width="301" height="242.3" viewBox="0 0 301 242" preserveAspectRatio="none" style="display:block"><defs><filter id="m1b05" x="-20%" y="-20%" width="140%" height="140%"><feGaussianBlur stdDeviation="1.28"/></filter><filter id="m1b1" x="-20%" y="-20%" width="140%" height="140%"><feGaussianBlur stdDeviation="1.92"/></filter><filter id="m1b2" x="-20%" y="-20%" width="140%" height="140%"><feGaussianBlur stdDeviation="3.20"/></filter><filter id="m1b3" x="-30%" y="-30%" width="160%" height="160%"><feGaussianBlur stdDeviation="6.40"/></filter><clipPath id="m1cl"><rect width="301" height="242"/></clipPath><filter id="m1b6" x="-40%" y="-40%" width="180%" height="180%"><feGaussianBlur stdDeviation="7"/></filter><linearGradient id="m1botg" x1="0" y1="0" x2="301" y2="0" gradientUnits="userSpaceOnUse"><stop offset="0" stop-color="#ececec"/><stop offset="0.18" stop-color="#d8d8d8"/><stop offset="0.33" stop-color="#858585"/><stop offset="1" stop-color="#6c6c6c"/></linearGradient></defs><g clip-path="url(#m1cl)"><rect x="-10" y="-10" width="321" height="262" fill="#767676"/><path d="M-5,204 L90,202 L150,208 L222,208 L245,192 L268,174 L284,172 L306,172 L306,250 L-5,250 Z" fill="url(#m1botg)" filter="url(#m1b2)"/><path d="M280,172 L306,168 L306,226 L290,228 Z" fill="#9c9c9c" filter="url(#m1b2)"/><path d="M279,170 C284,190 286,215 294,242" fill="none" stroke="#404040" stroke-width="2" filter="url(#m1b05)"/><path d="M230,208 C250,212 268,220 280,240" fill="none" stroke="#505050" stroke-width="1.8" filter="url(#m1b1)"/><path d="M100,0 L112,0 L92,32 L76,56 L70,72 L82,78 L100,58 L125,42 L86,85 L78,105 L73,130 L72,155 L78,192 L90,202 L60,208 L30,212 L-5,214 L-5,129 L26,121 L41,111 L51,99 L56,84 L64,62 L75,42 L86,24 Z" fill="#7c7c7c" filter="url(#m1b2)"/><ellipse cx="6" cy="168" rx="14" ry="30" fill="#a8a8a8" filter="url(#m1b3)"/><path d="M58,80 L70,100 L62,128" fill="none" stroke="#4a4a4a" stroke-width="3" filter="url(#m1b2)"/><path d="M44,120 L56,140 L48,160" fill="none" stroke="#4a4a4a" stroke-width="3" filter="url(#m1b2)"/><path d="M80,60 L72,86 L80,110" fill="none" stroke="#4a4a4a" stroke-width="3" filter="url(#m1b2)"/><path d="M20,140 L34,150 L26,175" fill="none" stroke="#4a4a4a" stroke-width="3" filter="url(#m1b2)"/><path d="M66,88 L60,118" fill="none" stroke="#a8a8a8" stroke-width="4" filter="url(#m1b2)"/><path d="M30,132 L40,160" fill="none" stroke="#a8a8a8" stroke-width="4" filter="url(#m1b2)"/><path d="M88,90 L82,120" fill="none" stroke="#a8a8a8" stroke-width="4" filter="url(#m1b2)"/><path d="M-5,-5 L106,-5 L104,0 L88,24 L75,42 L64,62 L57,84 L52,100 L45,113 L34,125 L18,134 L-5,142 Z" fill="#050505" filter="url(#m1b2)"/><path d="M145,-5 L306,-5 L306,172 L284,172 L282,140 L276,110 L264,88 L247,70 L218,52 L190,42 L160,40 L140,36 L132,22 L140,8 Z" fill="#0c0c0c" filter="url(#m1b1)"/><circle cx="227" cy="22" r="3" fill="#6e6e6e" filter="url(#m1b1)"/><circle cx="207" cy="28" r="2.5" fill="#6e6e6e" filter="url(#m1b1)"/><circle cx="264" cy="38" r="3.5" fill="#6e6e6e" filter="url(#m1b1)"/><circle cx="253" cy="5" r="2.5" fill="#6e6e6e" filter="url(#m1b1)"/><circle cx="277" cy="91" r="2.5" fill="#6e6e6e" filter="url(#m1b1)"/><circle cx="290" cy="72" r="3" fill="#6e6e6e" filter="url(#m1b1)"/><circle cx="292" cy="104" r="2.5" fill="#6e6e6e" filter="url(#m1b1)"/><circle cx="186" cy="24" r="2.5" fill="#6e6e6e" filter="url(#m1b1)"/><circle cx="247" cy="13" r="2" fill="#6e6e6e" filter="url(#m1b1)"/><circle cx="285" cy="125" r="2" fill="#6e6e6e" filter="url(#m1b1)"/><circle cx="295" cy="150" r="2" fill="#6e6e6e" filter="url(#m1b1)"/><circle cx="240" cy="40" r="2" fill="#6e6e6e" filter="url(#m1b1)"/><circle cx="170" cy="15" r="2" fill="#6e6e6e" filter="url(#m1b1)"/><circle cx="200" cy="8" r="2" fill="#6e6e6e" filter="url(#m1b1)"/><ellipse cx="138" cy="4" rx="14" ry="9" fill="#8a8a8a" filter="url(#m1b2)"/><path d="M108,50 L122,30 L140,26 L152,34 L150,42 L128,44 Z" fill="#3c3c3c" filter="url(#m1b2)"/><path d="M113,0 L141,0 L121,30 L100,56 L82,78 L66,76 L72,58 L90,32 Z" fill="#f6f6f6" filter="url(#m1b2)"/><path d="M125,42 C140,39 160,38 185,41 C205,44 232,58 252,76 C270,94 280,118 281,148 C280,160 276,167 270,172 C260,180 250,186 240,196 C232,204 228,207 220,208 L150,208 C120,207 100,206 90,202 C78,192 72,175 72,155 C73,130 78,105 86,85 C94,66 108,50 125,42 Z" fill="#a0a0a0" filter="url(#m1b1)"/><path d="M124,45 L166,46 L172,70 L152,92 L134,120 L128,160 L132,204 L96,204 L78,186 L74,150 L80,105 L94,68 Z" fill="#d4d4d4" filter="url(#m1b6)"/><ellipse cx="140" cy="68" rx="26" ry="20" fill="#f8f8f8" filter="url(#m1b6)"/><ellipse cx="105" cy="95" rx="16" ry="26" fill="#ececec" filter="url(#m1b6)"/><ellipse cx="189" cy="52" rx="11" ry="7" fill="#484848" filter="url(#m1b1)"/><ellipse cx="206" cy="62" rx="8" ry="5" fill="#555555" filter="url(#m1b1)"/><ellipse cx="203" cy="143" rx="75" ry="58.0" fill="#878787" filter="url(#m1b2)"/><ellipse cx="198.5" cy="140" rx="46" ry="42" fill="#a8a8a8" filter="url(#m1b2)"/><path d="M66,178 L80,192 L93,204 L56,204 Z" fill="#f2f2f2" filter="url(#m1b1)"/><path d="M66,134 L72,140 L64,165 L60,180 L56,196 L50,210 L42,217 L28,221 L22,214 L36,204 L46,190 L54,162 Z" fill="#282828" filter="url(#m1b1)"/><path d="M62,205 L150,208 L228,207" fill="none" stroke="#4c4c4c" stroke-width="2" filter="url(#m1b1)"/></g></svg></div>
<div class="abs" style="left:1px;top:405px;width:165px;height:136px;overflow:hidden"><svg width="165" height="136" viewBox="0 0 301 242" preserveAspectRatio="none" style="display:block"><defs><filter id="mab05" x="-20%" y="-20%" width="140%" height="140%"><feGaussianBlur stdDeviation="1.28"/></filter><filter id="mab1" x="-20%" y="-20%" width="140%" height="140%"><feGaussianBlur stdDeviation="1.92"/></filter><filter id="mab2" x="-20%" y="-20%" width="140%" height="140%"><feGaussianBlur stdDeviation="3.20"/></filter><filter id="mab3" x="-30%" y="-30%" width="160%" height="160%"><feGaussianBlur stdDeviation="6.40"/></filter><clipPath id="macl"><rect width="301" height="242"/></clipPath><filter id="mab6" x="-40%" y="-40%" width="180%" height="180%"><feGaussianBlur stdDeviation="7"/></filter><linearGradient id="mabotg" x1="0" y1="0" x2="301" y2="0" gradientUnits="userSpaceOnUse"><stop offset="0" stop-color="#ececec"/><stop offset="0.18" stop-color="#d8d8d8"/><stop offset="0.33" stop-color="#858585"/><stop offset="1" stop-color="#6c6c6c"/></linearGradient></defs><g clip-path="url(#macl)"><rect x="-10" y="-10" width="321" height="262" fill="#767676"/><path d="M-5,204 L90,202 L150,208 L222,208 L245,192 L268,174 L284,172 L306,172 L306,250 L-5,250 Z" fill="url(#mabotg)" filter="url(#mab2)"/><path d="M280,172 L306,168 L306,226 L290,228 Z" fill="#9c9c9c" filter="url(#mab2)"/><path d="M279,170 C284,190 286,215 294,242" fill="none" stroke="#404040" stroke-width="2" filter="url(#mab05)"/><path d="M230,208 C250,212 268,220 280,240" fill="none" stroke="#505050" stroke-width="1.8" filter="url(#mab1)"/><path d="M100,0 L112,0 L92,32 L76,56 L70,72 L82,78 L100,58 L125,42 L86,85 L78,105 L73,130 L72,155 L78,192 L90,202 L60,208 L30,212 L-5,214 L-5,129 L26,121 L41,111 L51,99 L56,84 L64,62 L75,42 L86,24 Z" fill="#7c7c7c" filter="url(#mab2)"/><ellipse cx="6" cy="168" rx="14" ry="30" fill="#a8a8a8" filter="url(#mab3)"/><path d="M58,80 L70,100 L62,128" fill="none" stroke="#4a4a4a" stroke-width="3" filter="url(#mab2)"/><path d="M44,120 L56,140 L48,160" fill="none" stroke="#4a4a4a" stroke-width="3" filter="url(#mab2)"/><path d="M80,60 L72,86 L80,110" fill="none" stroke="#4a4a4a" stroke-width="3" filter="url(#mab2)"/><path d="M20,140 L34,150 L26,175" fill="none" stroke="#4a4a4a" stroke-width="3" filter="url(#mab2)"/><path d="M66,88 L60,118" fill="none" stroke="#a8a8a8" stroke-width="4" filter="url(#mab2)"/><path d="M30,132 L40,160" fill="none" stroke="#a8a8a8" stroke-width="4" filter="url(#mab2)"/><path d="M88,90 L82,120" fill="none" stroke="#a8a8a8" stroke-width="4" filter="url(#mab2)"/><path d="M-5,-5 L106,-5 L104,0 L88,24 L75,42 L64,62 L57,84 L52,100 L45,113 L34,125 L18,134 L-5,142 Z" fill="#050505" filter="url(#mab2)"/><path d="M145,-5 L306,-5 L306,172 L284,172 L282,140 L276,110 L264,88 L247,70 L218,52 L190,42 L160,40 L140,36 L132,22 L140,8 Z" fill="#0c0c0c" filter="url(#mab1)"/><circle cx="227" cy="22" r="3" fill="#6e6e6e" filter="url(#mab1)"/><circle cx="207" cy="28" r="2.5" fill="#6e6e6e" filter="url(#mab1)"/><circle cx="264" cy="38" r="3.5" fill="#6e6e6e" filter="url(#mab1)"/><circle cx="253" cy="5" r="2.5" fill="#6e6e6e" filter="url(#mab1)"/><circle cx="277" cy="91" r="2.5" fill="#6e6e6e" filter="url(#mab1)"/><circle cx="290" cy="72" r="3" fill="#6e6e6e" filter="url(#mab1)"/><circle cx="292" cy="104" r="2.5" fill="#6e6e6e" filter="url(#mab1)"/><circle cx="186" cy="24" r="2.5" fill="#6e6e6e" filter="url(#mab1)"/><circle cx="247" cy="13" r="2" fill="#6e6e6e" filter="url(#mab1)"/><circle cx="285" cy="125" r="2" fill="#6e6e6e" filter="url(#mab1)"/><circle cx="295" cy="150" r="2" fill="#6e6e6e" filter="url(#mab1)"/><circle cx="240" cy="40" r="2" fill="#6e6e6e" filter="url(#mab1)"/><circle cx="170" cy="15" r="2" fill="#6e6e6e" filter="url(#mab1)"/><circle cx="200" cy="8" r="2" fill="#6e6e6e" filter="url(#mab1)"/><ellipse cx="138" cy="4" rx="14" ry="9" fill="#8a8a8a" filter="url(#mab2)"/><path d="M108,50 L122,30 L140,26 L152,34 L150,42 L128,44 Z" fill="#3c3c3c" filter="url(#mab2)"/><path d="M113,0 L141,0 L121,30 L100,56 L82,78 L66,76 L72,58 L90,32 Z" fill="#f6f6f6" filter="url(#mab2)"/><path d="M125,42 C140,39 160,38 185,41 C205,44 232,58 252,76 C270,94 280,118 281,148 C280,160 276,167 270,172 C260,180 250,186 240,196 C232,204 228,207 220,208 L150,208 C120,207 100,206 90,202 C78,192 72,175 72,155 C73,130 78,105 86,85 C94,66 108,50 125,42 Z" fill="#a0a0a0" filter="url(#mab1)"/><path d="M124,45 L166,46 L172,70 L152,92 L134,120 L128,160 L132,204 L96,204 L78,186 L74,150 L80,105 L94,68 Z" fill="#d4d4d4" filter="url(#mab6)"/><ellipse cx="140" cy="68" rx="26" ry="20" fill="#f8f8f8" filter="url(#mab6)"/><ellipse cx="105" cy="95" rx="16" ry="26" fill="#ececec" filter="url(#mab6)"/><ellipse cx="189" cy="52" rx="11" ry="7" fill="#484848" filter="url(#mab1)"/><ellipse cx="206" cy="62" rx="8" ry="5" fill="#555555" filter="url(#mab1)"/><ellipse cx="203" cy="135" rx="75" ry="62.0" fill="#868686" filter="url(#mab2)"/><ellipse cx="198.5" cy="132" rx="46" ry="42" fill="#b2b2b2" filter="url(#mab2)"/><path d="M66,178 L80,192 L93,204 L56,204 Z" fill="#f2f2f2" filter="url(#mab1)"/><path d="M2,224 L34,184 L40,188 L8,230 Z" fill="#e8e8e8" filter="url(#mab1)"/><path d="M64,158 L72,164 L66,182 L60,198 L54,210 L44,218 L30,222 L24,214 L36,204 L46,192 L54,176 Z" fill="#222222" filter="url(#mab1)"/><path d="M62,205 L150,208 L228,207" fill="none" stroke="#4c4c4c" stroke-width="2" filter="url(#mab1)"/></g></svg></div>
<div class="abs" style="left:185px;top:405px;width:170.5px;height:137px;overflow:hidden"><svg width="170.5" height="137" viewBox="0 0 170.5 137" preserveAspectRatio="none" style="display:block"><defs><filter id="mbb05" x="-20%" y="-20%" width="140%" height="140%"><feGaussianBlur stdDeviation="0.88"/></filter><filter id="mbb1" x="-20%" y="-20%" width="140%" height="140%"><feGaussianBlur stdDeviation="1.32"/></filter><filter id="mbb2" x="-20%" y="-20%" width="140%" height="140%"><feGaussianBlur stdDeviation="2.20"/></filter><filter id="mbb3" x="-30%" y="-30%" width="160%" height="160%"><feGaussianBlur stdDeviation="4.40"/></filter><clipPath id="mbcl"><rect width="170.5" height="137"/></clipPath><radialGradient id="mbwg" cx="30" cy="100" r="80" gradientUnits="userSpaceOnUse"><stop offset="0" stop-color="#e6e6e6"/><stop offset="1" stop-color="#d0d0d0"/></radialGradient></defs><g clip-path="url(#mbcl)"><rect x="-5" y="-5" width="181" height="147" fill="#060606"/><path d="M0,112 L170.5,108 L170.5,137 L0,137 Z" fill="#3c3c3c" filter="url(#mbb2)"/><path d="M158,92 L170.5,90 L170.5,137 L156,137 Z" fill="#484848" filter="url(#mbb2)"/><path d="M41,0 L74,0 L64,14 L56,30 L48,50 L43,70 L42,100 L45,116 L36,137 L0,137 L0,74 L8,73 L15,69 L20,52 L26.5,36 L33,18 Z" fill="url(#mbwg)" filter="url(#mbb1)"/><path d="M68,5 C82,6 95,12 110,18 C128,22 145,28 153,40 C160,52 162,70 160,86 C158,98 150,108 140,113 L60,116 L45,114 C42,100 42,80 43,66 C46,46 56,24 68,5 Z" fill="#626262" filter="url(#mbb1)"/><ellipse cx="110.5" cy="73.5" rx="45" ry="42.5" fill="#141414" filter="url(#mbb1)"/><ellipse cx="110.5" cy="75" rx="35" ry="36" fill="none" stroke="#2a2a2a" stroke-width="4" filter="url(#mbb05)"/><ellipse cx="110" cy="76" rx="25.5" ry="27" fill="#585858" filter="url(#mbb1)"/><path d="M96,20 C115,22 135,26 148,36 C157,46 161,62 160,80 C159,92 156,100 152,104" fill="none" stroke="#c8c8c8" stroke-width="2.6" filter="url(#mbb05)"/><ellipse cx="101" cy="16" rx="10" ry="6" fill="#e8e8e8" filter="url(#mbb1)"/><ellipse cx="60" cy="12" rx="7" ry="8" fill="#f0f0f0" filter="url(#mbb1)"/><ellipse cx="44" cy="29" rx="7" ry="6" fill="#f4f4f4" filter="url(#mbb1)"/><ellipse cx="44" cy="29" rx="9" ry="8" fill="none" stroke="#202020" stroke-width="2" filter="url(#mbb05)"/><path d="M60,14 L52,34 L46,52 L43,72 L43,110" fill="none" stroke="#222" stroke-width="2.2" filter="url(#mbb1)"/><path d="M42,40 L38,60 L36,84 M34,60 L30,80" fill="none" stroke="#909090" stroke-width="3" filter="url(#mbb1)"/><path d="M4,90 C10,84 18,88 14,96 C10,104 20,106 24,100 M6,112 C12,106 22,108 18,116 C14,124 26,126 30,118" fill="none" stroke="#1c1c1c" stroke-width="3" filter="url(#mbb05)"/><path d="M45,114 L160,112" stroke="#101010" stroke-width="3" filter="url(#mbb1)"/><ellipse cx="121.5" cy="121.5" rx="4" ry="3" fill="#a0a0a0" filter="url(#mbb1)"/><ellipse cx="150" cy="120" rx="4" ry="2.5" fill="#808080" filter="url(#mbb1)"/><circle cx="140" cy="10" r="1.5" fill="#404040" filter="url(#mbb05)"/><circle cx="160" cy="20" r="1.5" fill="#404040" filter="url(#mbb05)"/><circle cx="165" cy="45" r="1.5" fill="#404040" filter="url(#mbb05)"/><circle cx="150" cy="5" r="1.2" fill="#404040" filter="url(#mbb05)"/></g></svg></div>
<div class="abs" style="left:367.7px;top:403.6px;width:178px;height:138.7px;overflow:hidden"><svg width="178" height="138.7" viewBox="0 0 178 138.7" preserveAspectRatio="none" style="display:block"><defs><filter id="mcb05" x="-20%" y="-20%" width="140%" height="140%"><feGaussianBlur stdDeviation="1.04"/></filter><filter id="mcb1" x="-20%" y="-20%" width="140%" height="140%"><feGaussianBlur stdDeviation="1.56"/></filter><filter id="mcb2" x="-20%" y="-20%" width="140%" height="140%"><feGaussianBlur stdDeviation="2.60"/></filter><filter id="mcb3" x="-30%" y="-30%" width="160%" height="160%"><feGaussianBlur stdDeviation="5.20"/></filter><clipPath id="mccl"><rect width="178" height="138.7"/></clipPath><radialGradient id="mchg" cx="62" cy="38" r="110" gradientUnits="userSpaceOnUse"><stop offset="0" stop-color="#e4e4e4"/><stop offset="0.3" stop-color="#b8b8b8"/><stop offset="0.65" stop-color="#8e8e8e"/><stop offset="1" stop-color="#888888"/></radialGradient><linearGradient id="mcbg" x1="0" y1="0" x2="1" y2="0"><stop offset="0" stop-color="#d8d8d8"/><stop offset="0.45" stop-color="#a4a4a4"/><stop offset="0.8" stop-color="#888888"/><stop offset="1" stop-color="#747474"/></linearGradient></defs><g clip-path="url(#mccl)"><rect x="-5" y="-5" width="188" height="149" fill="#0a0a0a"/><path d="M0,112 L178,100 L178,139 L0,139 Z" fill="url(#mcbg)" filter="url(#mcb2)"/><path d="M164,98 L178,96 L178,139 L168,139 Z" fill="#6c6c6c" filter="url(#mcb2)"/><path d="M-5,68 L22,60 L30,72 L26,92 L-5,98 Z" fill="#5e5e5e" filter="url(#mcb2)"/><path d="M51,0 L80,0 L66,8 L58,20 L52,38 L47,55 L45,75 L45,100 L50,112 L30,126 L-5,136 L-5,96 L18,88 L24,72 L30,56 L36,38 L44,14 Z" fill="#cfcfcf" filter="url(#mcb1)"/><path d="M46,10 L40,30 L34,50 L30,66" fill="none" stroke="#7a7a7a" stroke-width="3" filter="url(#mcb1)"/><path d="M58,6 L50,26 L44,50" fill="none" stroke="#8a8a8a" stroke-width="2.5" filter="url(#mcb1)"/><path d="M54,0 L76,0 L64,14 L56,30 L48,48 L42,46 L46,30 Z" fill="#f0f0f0" filter="url(#mcb2)"/><ellipse cx="18" cy="118" rx="24" ry="14" fill="#ececec" filter="url(#mcb3)"/><path d="M44,60 L44,100 L50,112" fill="none" stroke="#404040" stroke-width="1.5" filter="url(#mcb05)"/><path d="M62,10 C78,6 100,12 120,20 C138,28 152,38 160,50 C167,62 169,80 168,94 C165,104 152,110 134,117 L97,119 C80,118 62,116 52,110 C45,98 43,80 44,65 C46,45 52,22 62,10 Z" fill="#7e7e7e" filter="url(#mcb1)"/><path d="M60,12 L96,14 L100,30 L80,50 L70,80 L72,112 L52,110 C45,98 43,80 44,65 C46,45 52,22 60,12 Z" fill="#cacaca" filter="url(#mcb3)"/><ellipse cx="76" cy="28" rx="18" ry="14" fill="#e0e0e0" filter="url(#mcb3)"/><ellipse cx="112" cy="72" rx="34" ry="30" fill="none" stroke="#727272" stroke-width="6" filter="url(#mcb2)"/><ellipse cx="112" cy="24" rx="7" ry="4" fill="#303030" filter="url(#mcb1)"/><ellipse cx="124" cy="31" rx="6" ry="3" fill="#383838" filter="url(#mcb1)"/><path d="M6,126 C12,116 22,120 18,110 C14,100 26,96 30,104 M22,100 C28,92 36,96 34,86 M12,112 C18,106 10,100 16,94" fill="none" stroke="#202020" stroke-width="3" filter="url(#mcb05)"/><path d="M50,112 C70,118 100,120 134,117 C148,112 158,106 166,98" fill="none" stroke="#303030" stroke-width="1.6" filter="url(#mcb05)"/><path d="M130,117 C134,124 138,130 142,139 M168,100 C166,115 168,125 174,139" fill="none" stroke="#404040" stroke-width="1.4" filter="url(#mcb05)"/><circle cx="130" cy="8" r="1.5" fill="#606060" filter="url(#mcb05)"/><circle cx="150" cy="14" r="1.5" fill="#606060" filter="url(#mcb05)"/><circle cx="160" cy="30" r="1.8" fill="#606060" filter="url(#mcb05)"/><circle cx="170" cy="50" r="1.5" fill="#606060" filter="url(#mcb05)"/><circle cx="172" cy="70" r="1.5" fill="#606060" filter="url(#mcb05)"/><circle cx="140" cy="4" r="1.2" fill="#606060" filter="url(#mcb05)"/><circle cx="100" cy="6" r="1.2" fill="#606060" filter="url(#mcb05)"/></g></svg></div>
<div class="abs" style="left:556px;top:370px;width:222px;height:178px;overflow:hidden"><svg width="222" height="178" viewBox="0 0 222 178" style="display:block"><defs><filter id="cb1" x="-20%" y="-20%" width="140%" height="140%"><feGaussianBlur stdDeviation="1.2"/></filter><filter id="cb2" x="-20%" y="-20%" width="140%" height="140%"><feGaussianBlur stdDeviation="2.2"/></filter><filter id="cb3" x="-30%" y="-30%" width="160%" height="160%"><feGaussianBlur stdDeviation="4"/></filter><radialGradient id="lvg" cx="150" cy="62" r="40" gradientUnits="userSpaceOnUse"><stop offset="0" stop-color="#ffffe8"/><stop offset="0.7" stop-color="#ffffa8"/><stop offset="1" stop-color="#ffe040"/></radialGradient><radialGradient id="rvg" cx="85" cy="95" r="50" gradientUnits="userSpaceOnUse"><stop offset="0" stop-color="#ffffd0"/><stop offset="0.6" stop-color="#fff070"/><stop offset="1" stop-color="#ffc020"/></radialGradient><clipPath id="ccl"><rect width="222" height="178"/></clipPath></defs><g clip-path="url(#ccl)"><rect width="222" height="178" fill="#000"/><path d="M58,154 L100,150 L150,128 L200,96 L222,88 L222,180 L50,180 Z" fill="#3412a2" filter="url(#cb2)"/><g filter="url(#cb1)"><path d="M24,0 L31,0 L32,20 L30,38 L26,40 L24,20 Z" fill="#6a18c8"/><path d="M34,92 L46,90 L50,102 L44,110 L36,104 Z" fill="none" stroke="#7a20c8" stroke-width="3"/><path d="M44,120 L60,116 L66,130 L58,146 L46,140 Z" fill="none" stroke="#7a20c8" stroke-width="3"/><circle cx="38" cy="102" r="3" fill="#d03070"/><circle cx="50" cy="128" r="3" fill="#e04060"/><circle cx="58" cy="144" r="3" fill="#f07020"/><circle cx="70" cy="158" r="3" fill="#f08020"/></g><g filter="url(#cb1)"><rect x="50" y="-2" width="172" height="14" fill="#fbb828"/><rect x="28" y="12" width="50" height="30" fill="#f08818"/><circle cx="60" cy="5" r="4" fill="#ffff90"/><circle cx="80" cy="3" r="5" fill="#fffff0"/><circle cx="100" cy="8" r="4" fill="#ffe060"/><circle cx="120" cy="2" r="4" fill="#fffff0"/><circle cx="140" cy="6" r="4" fill="#ffff90"/><circle cx="170" cy="3" r="4" fill="#ffffc0"/><circle cx="195" cy="5" r="5" fill="#fff060"/><circle cx="215" cy="4" r="4" fill="#ffffc0"/><circle cx="70" cy="12" r="3" fill="#7018c0"/><circle cx="110" cy="12" r="3" fill="#7018c0"/><circle cx="130" cy="6" r="2.5" fill="#6010b0"/><circle cx="160" cy="8" r="3" fill="#7018c0"/><circle cx="185" cy="12" r="3" fill="#7018c0"/><circle cx="205" cy="15" r="3" fill="#7018c0"/><circle cx="212" cy="28" r="3" fill="#7018c0"/><circle cx="205" cy="38" r="3" fill="#7018c0"/><circle cx="40" cy="20" r="5" fill="#ffff90"/><circle cx="55" cy="28" r="5" fill="#fffff0"/><circle cx="38" cy="34" r="4" fill="#ffd040"/><circle cx="65" cy="20" r="4" fill="#f0b020"/><circle cx="48" cy="16" r="3" fill="#6a18c8"/><circle cx="60" cy="40" r="3" fill="#6a18c8"/><circle cx="208" cy="22" r="4" fill="#ffe070"/><circle cx="215" cy="45" r="4" fill="#fff080"/></g><path d="M150,0 L222,0 L222,98 L204,104 L207,70 L198,36 L180,16 L160,10 Z" fill="#f8a828" filter="url(#cb1)"/><path d="M207,52 L222,46 L222,100 L204,104 L207,76 Z" fill="#5a1ab8" filter="url(#cb1)"/><g filter="url(#cb1)"><circle cx="200" cy="20" r="4" fill="#ffff90"/><circle cx="180" cy="14" r="3" fill="#ffffd0"/><circle cx="168" cy="10" r="3" fill="#fff080"/><circle cx="192" cy="30" r="2.5" fill="#7018c0"/><circle cx="212" cy="35" r="3" fill="#7018c0"/><circle cx="218" cy="50" r="2.5" fill="#6010b0"/><circle cx="206" cy="48" r="2.5" fill="#8020c0"/><circle cx="216" cy="72" r="2.5" fill="#7018c0"/><circle cx="220" cy="88" r="3" fill="#5010a0"/></g><path d="M72,40 C82,26 100,20 118,18 C130,15 140,12 150,11 L152,16 L140,20 L126,27 L110,35 L95,44 L80,52 Z" fill="#000" filter="url(#cb1)"/><path d="M30,10 L50,6 L52,18 L44,30 L32,30 Z" fill="#000" filter="url(#cb1)"/><g filter="url(#cb1)"><path d="M22,40 L30,34 L36,44 L34,62 L30,80 L24,92 L20,80 L22,60 Z" fill="#7a1cc0"/><path d="M26,42 L40,36 L54,40 L58,52 L50,60 L40,64 L32,70 L26,62 Z" fill="#f07818"/><circle cx="34" cy="48" r="5" fill="#ffe060"/><circle cx="28" cy="62" r="3.5" fill="#ffb030"/><circle cx="46" cy="42" r="4" fill="#fff0a0"/><ellipse cx="46" cy="54" rx="6" ry="6" fill="#000"/><path d="M26,72 L34,70 L38,80 L30,90 L24,84 Z" fill="#e06020"/><ellipse cx="42" cy="80" rx="8" ry="8" fill="#000"/><path d="M30,96 L40,92 L48,100 L42,108 L32,104 Z" fill="#6a18c0"/><path d="M40,116 L52,112 L60,122 L56,136 L44,132 Z" fill="#6a18c0"/><path d="M44,140 L56,138 L62,150 L52,156 L44,150 Z" fill="#5a14b0"/></g><path d="M190,110 C196,104 206,100 222,98 L222,178 L188,178 C184,160 184,126 190,110 Z" fill="#e86020" filter="url(#cb1)"/><path d="M196,114 C202,108 210,106 222,104 L222,176 L196,176 C192,160 192,128 196,114 Z" fill="#a8208c" filter="url(#cb2)"/><path d="M80,50 C95,40 115,38 130,45 L160,80 L178,108 L150,130 C135,138 118,145 100,145 C84,144 70,137 62,123 C54,108 53,90 55,76 C58,64 68,56 80,50 Z" fill="#d84a30" filter="url(#cb1)"/><path d="M82,54 C96,45 115,43 130,49 L160,82 L175,108 L148,126 C132,134 116,140 100,140 C86,139 74,133 66,121 C59,107 58,91 60,78 C63,67 71,60 82,54 Z" fill="#f08a18" filter="url(#cb1)"/><path d="M84,58 C97,50 115,48 128,53 L150,90 L160,110 L142,122 C130,129 115,134 100,134 C88,133 77,128 70,117 C64,106 63,92 65,80 C68,70 74,63 84,58 Z" fill="url(#rvg)" filter="url(#cb2)"/><circle cx="156" cy="61.5" r="47.5" fill="#f89428" filter="url(#cb1)"/><circle cx="156" cy="61.5" r="44.5" fill="#c83068" filter="url(#cb1)"/><circle cx="156" cy="61.5" r="40" fill="#f07a20" filter="url(#cb1)"/><circle cx="155" cy="62" r="36" fill="url(#lvg)" filter="url(#cb2)"/><circle cx="160" cy="36.6" r="3" fill="#d04020" filter="url(#cb1)"/><circle cx="174.6" cy="43" r="2.5" fill="#e06020" filter="url(#cb1)"/><circle cx="173" cy="77" r="3" fill="#d04020" filter="url(#cb1)"/><circle cx="130" cy="60" r="2.5" fill="#f0a020" filter="url(#cb1)"/><circle cx="178" cy="62" r="2.5" fill="#f0a020" filter="url(#cb1)"/><circle cx="145" cy="88" r="2.5" fill="#f0a030" filter="url(#cb1)"/><circle cx="87" cy="103" r="3" fill="#d04020" filter="url(#cb1)"/><circle cx="75" cy="95" r="2.5" fill="#f0a030" filter="url(#cb1)"/><circle cx="110" cy="120" r="3" fill="#f0b030" filter="url(#cb1)"/><path d="M180,16 C195,24 206,38 208,52 C209,62 207,70 204,76 L201,75 C204,66 204,58 202,50 C199,38 190,26 178,19 Z" fill="#000" stroke="#000" stroke-width="2" filter="url(#cb1)"/><path d="M146,131 L174,108 L177,111 L149,134 Z" fill="#000" stroke="#000" stroke-width="1.5" filter="url(#cb1)"/><path d="M59,142 L100,146 L140,134 L142,140 L100,154 L58,152 Z" fill="#000" filter="url(#cb1)"/><circle cx="160" cy="160" r="3.5" fill="#ffe040" filter="url(#cb1)"/><circle cx="180" cy="148" r="3.5" fill="#f08030" filter="url(#cb1)"/><circle cx="140" cy="171" r="3" fill="#c03080" filter="url(#cb1)"/><circle cx="122" cy="170" r="3" fill="#a02890" filter="url(#cb1)"/><circle cx="100" cy="158" r="4" fill="#f09020" filter="url(#cb1)"/><circle cx="112" cy="150" r="5" fill="#f08020" filter="url(#cb1)"/><circle cx="130" cy="158" r="2.5" fill="#8020c0" filter="url(#cb1)"/><circle cx="170" cy="168" r="2.5" fill="#8020c0" filter="url(#cb1)"/><circle cx="150" cy="150" r="2.5" fill="#8020c0" filter="url(#cb1)"/></g></svg></div>

</body></html>
